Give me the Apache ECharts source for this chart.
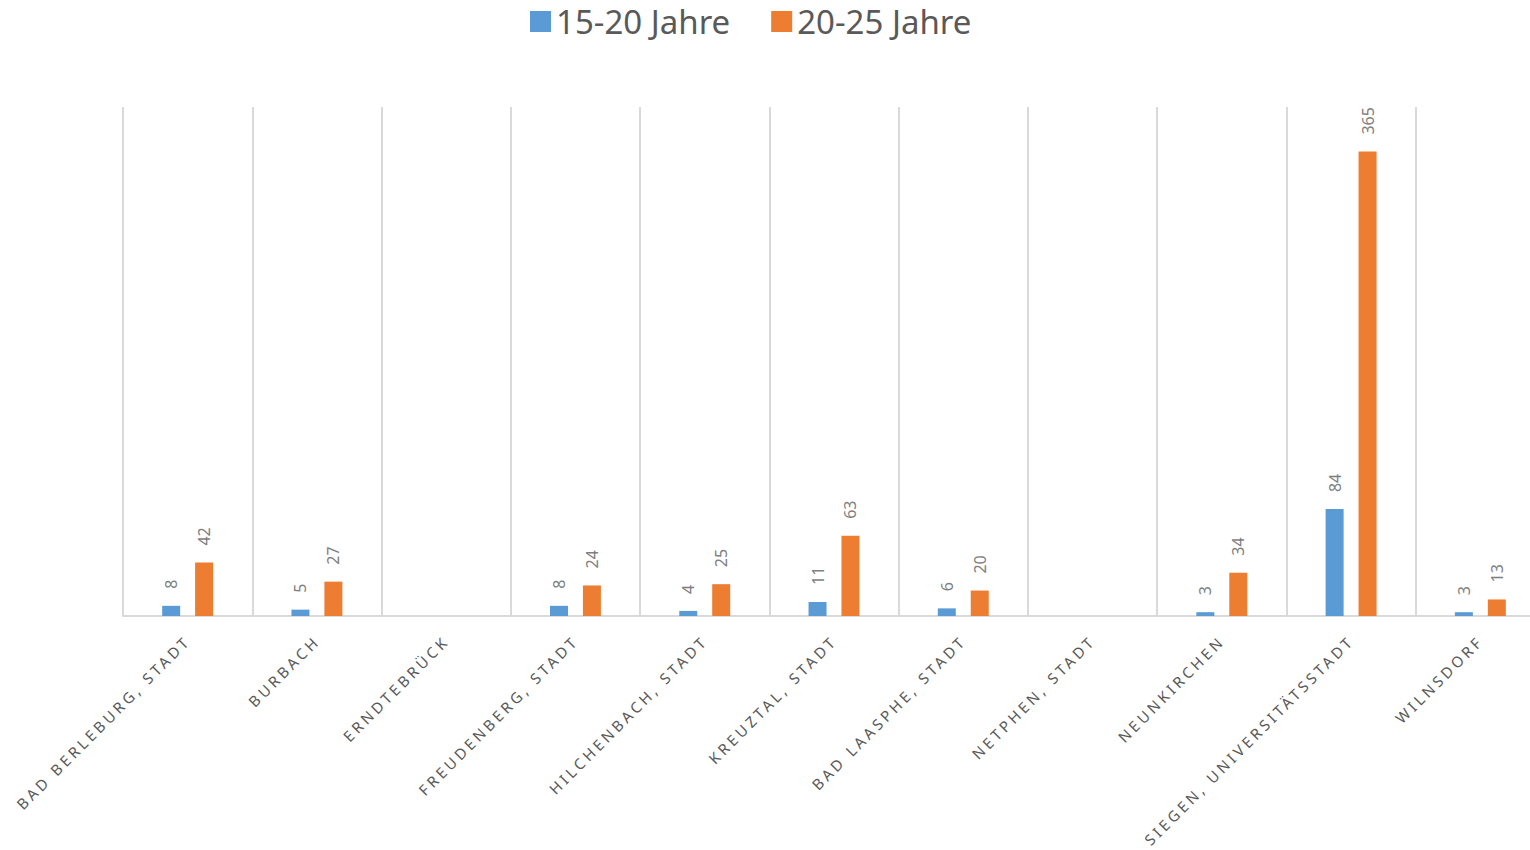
<!DOCTYPE html>
<html><head><meta charset="utf-8">
<script src="https://cdn.jsdelivr.net/npm/echarts@6/dist/echarts.min.js"></script>
<style>html,body{margin:0;padding:0;background:#fff}#c{width:1530px;height:850px}</style>
</head><body><div id="c"></div>
<script>
const categories = ['BAD BERLEBURG, STADT','BURBACH','ERNDTEBRÜCK','FREUDENBERG, STADT','HILCHENBACH, STADT','KREUZTAL, STADT','BAD LAASPHE, STADT','NETPHEN, STADT','NEUNKIRCHEN','SIEGEN, UNIVERSITÄTSSTADT','WILNSDORF'];
const seriesNames = ['15-20 Jahre','20-25 Jahre'];
const values1520 = [8,5,null,8,4,11,6,null,3,84,3];
const values2025 = [42,27,null,24,25,63,20,null,34,365,13];

const chart = echarts.init(document.getElementById('c'), null, {renderer:'svg'});
const font = 'Noto Sans';
const lbl = {show:true, position:'top', rotate:90, align:'left', verticalAlign:'middle', distance:17, color:'#7f7f7f', fontSize:16, fontFamily:font};
chart.setOption({
  animation:false,
  legend:{data:seriesNames, left:525, top:0, itemWidth:21, itemHeight:21, itemGap:41, icon:'rect',
    textStyle:{fontSize:33, color:'#595959', fontFamily:font}},
  grid:{left:123, right:-15, top:107, bottom:234, containLabel:false, outerBoundsMode:'none'},
  xAxis:{type:'category', data:categories,
    axisLine:{lineStyle:{color:'#d9d9d9', width:2}}, axisTick:{show:false},
    splitLine:{show:true, lineStyle:{color:'#d9d9d9', width:2}},
    axisLabel:{rotate:45, interval:0, color:'#595959', fontSize:15, fontFamily:font, margin:22}},
  yAxis:{type:'value', min:0, max:400, show:false, splitLine:{show:false}},
  series:[
    {name:seriesNames[0], type:'bar', data:values1520, barWidth:18, barGap:'83%', itemStyle:{color:'#5b9bd5'}, label:lbl},
    {name:seriesNames[1], type:'bar', data:values2025, barWidth:18, itemStyle:{color:'#ed7d31'}, label:lbl}
  ]
});
document.querySelectorAll('#c text').forEach(function(t){
  if (categories.indexOf(t.textContent) >= 0) t.style.letterSpacing = '3.4px';
});
</script></body></html>
